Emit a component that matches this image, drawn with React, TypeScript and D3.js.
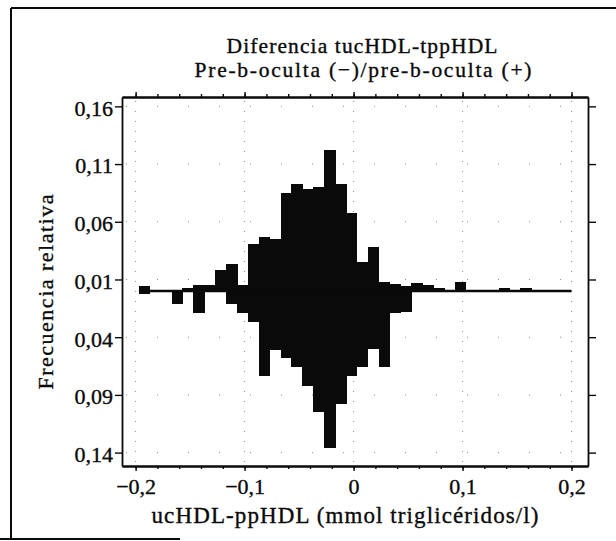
import { useEffect, useRef } from "react";
import * as d3 from "d3";

// bins of 0.01 mmol/l, lower edge of each bin
const binStarts = [
  -0.197, -0.187, -0.177, -0.167, -0.157, -0.147, -0.137, -0.127, -0.117, -0.107,
  -0.097, -0.087, -0.077, -0.067, -0.057, -0.047, -0.037, -0.027, -0.017, -0.007,
  0.003, 0.013, 0.023, 0.033, 0.043, 0.053, 0.063, 0.073, 0.083, 0.093,
  0.103, 0.113, 0.123, 0.133, 0.143, 0.153, 0.163, 0.173, 0.183, 0.193,
];

// pre-b-oculta (+), drawn upwards
const positiveFreq = [
  0.004, 0, 0, 0, 0.003, 0.005, 0.005, 0.018, 0.023, 0.005,
  0.041, 0.047, 0.045, 0.085, 0.093, 0.088, 0.09, 0.122, 0.093, 0.068,
  0.025, 0.038, 0.008, 0.006, 0.004, 0.007, 0.005, 0.003, 0, 0.008,
  0, 0, 0, 0.003, 0, 0.003, 0, 0, 0, 0,
];

// pre-b-oculta (-), drawn downwards
const negativeFreq = [
  0.003, 0, 0, 0.011, 0, 0.019, 0, 0, 0.011, 0.019,
  0.027, 0.074, 0.051, 0.058, 0.066, 0.082, 0.105, 0.136, 0.098, 0.074,
  0.066, 0.05, 0.066, 0.019, 0.018, 0, 0, 0, 0, 0,
  0, 0, 0, 0, 0, 0, 0, 0, 0, 0,
];

const binWidth = 0.01;

const xTickValues = [-0.2, -0.1, 0, 0.1, 0.2];
const xTickLabels = ["\u22120,2", "\u22120,1", "0", "0,1", "0,2"];
const yTickValues = [0.16, 0.11, 0.06, 0.01, -0.04, -0.09, -0.14];
const yTickLabels = ["0,16", "0,11", "0,06", "0,01", "0,04", "0,09", "0,14"];

const titleLines = ["Diferencia tucHDL-tppHDL", "Pre-b-oculta (\u2212)/pre-b-oculta (+)"];
const xTitle = "ucHDL-ppHDL (mmol triglicéridos/l)";
const yTitle = "Frecuencia relativa";

export default function App() {
  const ref = useRef<SVGSVGElement>(null);

  useEffect(() => {
    const svg = d3.select(ref.current);
    svg.selectAll("*").remove();

    const font = "'Liberation Serif', 'Times New Roman', serif";
    const ink = "#0a0a0a";

    const plot = { left: 122, right: 588, top: 97, bottom: 466 };

    const x = d3.scaleLinear().domain([-0.2125, 0.2151]).range([plot.left, plot.right]);
    const y = d3.scaleLinear().domain([-0.1516, 0.1681]).range([plot.bottom, plot.top]);

    svg.append("rect").attr("width", 616).attr("height", 541).attr("fill", "#fff");

    // outer frame (only partly visible in the scan)
    const frame = svg.append("g").attr("stroke", ink).attr("stroke-width", 2).attr("fill", "none");
    frame.append("line").attr("x1", 11).attr("x2", 616).attr("y1", 8).attr("y2", 8);
    frame.append("line").attr("x1", 11).attr("x2", 11).attr("y1", 8).attr("y2", 539);
    frame.append("line").attr("x1", 0).attr("x2", 180).attr("y1", 539).attr("y2", 539);

    // faint dotted grid
    const grid = svg.append("g")
      .attr("stroke", "#8a8a8a")
      .attr("stroke-width", 1)
      .attr("stroke-dasharray", "1,9");
    grid.selectAll("line.v")
      .data(xTickValues)
      .enter()
      .append("line")
      .attr("x1", d => x(d)).attr("x2", d => x(d))
      .attr("y1", plot.top + 4).attr("y2", plot.bottom - 2);
    grid.selectAll("line.h")
      .data(yTickValues)
      .enter()
      .append("line")
      .attr("x1", plot.left + 4).attr("x2", plot.right - 4)
      .attr("y1", d => y(d)).attr("y2", d => y(d))
      .attr("stroke-dasharray", "1,30");

    // mirrored histogram
    const bins = binStarts.map((b, i) => ({ start: b, pos: positiveFreq[i], neg: negativeFreq[i] }));
    svg.append("g")
      .selectAll("rect")
      .data(bins.filter(d => d.pos > 0 || d.neg > 0))
      .enter()
      .append("rect")
      .attr("x", d => x(d.start))
      .attr("width", d => x(d.start + binWidth) - x(d.start) + 0.6)
      .attr("y", d => y(d.pos))
      .attr("height", d => y(-d.neg) - y(d.pos))
      .attr("fill", ink)
      .attr("shape-rendering", "crispEdges");

    // zero line
    svg.append("line")
      .attr("x1", x(binStarts[0])).attr("x2", x(0.2))
      .attr("y1", y(0)).attr("y2", y(0))
      .attr("stroke", ink)
      .attr("stroke-width", 2.4);

    const minorX = d3.range(-0.2, 0.2001, 0.02);

    const styleAxis = (g: any) => {
      g.select(".domain").attr("stroke", ink).attr("stroke-width", 1.8);
      g.selectAll(".tick line").attr("stroke", ink).attr("stroke-width", 1.4);
      g.selectAll("text")
        .attr("fill", ink)
        .attr("stroke", ink)
        .attr("stroke-width", 0.35)
        .style("font-family", font)
        .style("font-size", "22px");
    };

    // left axis
    svg.append("g")
      .attr("transform", `translate(${plot.left},0)`)
      .call(d3.axisLeft(y)
        .tickValues(yTickValues)
        .tickFormat((_d, i) => yTickLabels[i])
        .tickSize(7)
        .tickPadding(2)
        .tickSizeOuter(0))
      .call(styleAxis)
      .call(g => g.selectAll("text").attr("dy", "0.4em"));

    // right axis
    svg.append("g")
      .attr("transform", `translate(${plot.right},0)`)
      .call(d3.axisRight(y).tickValues(yTickValues).tickFormat(() => "").tickSize(8).tickSizeOuter(0))
      .call(styleAxis);

    // bottom axis
    svg.append("g")
      .attr("transform", `translate(0,${plot.bottom})`)
      .call(d3.axisBottom(x)
        .tickValues(xTickValues)
        .tickFormat((_d, i) => xTickLabels[i])
        .tickSize(5)
        .tickPadding(7)
        .tickSizeOuter(0))
      .call(styleAxis);
    svg.append("g")
      .attr("transform", `translate(0,${plot.bottom})`)
      .call(d3.axisBottom(x).tickValues(minorX).tickFormat(() => "").tickSize(3).tickSizeOuter(0))
      .call(styleAxis);

    // top axis
    svg.append("g")
      .attr("transform", `translate(0,${plot.top})`)
      .call(d3.axisTop(x).tickValues(xTickValues).tickFormat(() => "").tickSize(5).tickSizeOuter(0))
      .call(styleAxis);
    svg.append("g")
      .attr("transform", `translate(0,${plot.top})`)
      .call(d3.axisTop(x).tickValues(minorX).tickFormat(() => "").tickSize(3).tickSizeOuter(0))
      .call(styleAxis);

    // titles
    const title = svg.append("g")
      .attr("fill", ink)
      .attr("stroke", ink)
      .attr("stroke-width", 0.35)
      .style("font-family", font)
      .style("font-size", "21.5px")
      .attr("text-anchor", "middle");
    title.append("text").attr("x", 362).attr("y", 53)
      .attr("textLength", 271).attr("lengthAdjust", "spacing").text(titleLines[0]);
    title.append("text").attr("x", 363).attr("y", 77)
      .attr("textLength", 337).attr("lengthAdjust", "spacing").text(titleLines[1]);

    svg.append("text")
      .attr("x", 345).attr("y", 523)
      .attr("text-anchor", "middle")
      .attr("fill", ink)
      .attr("stroke", ink)
      .attr("stroke-width", 0.35)
      .style("font-family", font)
      .style("font-size", "23px")
      .attr("textLength", 387).attr("lengthAdjust", "spacing")
      .text(xTitle);

    svg.append("text")
      .attr("transform", "translate(53,292) rotate(-90)")
      .attr("text-anchor", "middle")
      .attr("fill", ink)
      .attr("stroke", ink)
      .attr("stroke-width", 0.35)
      .style("font-family", font)
      .style("font-size", "22px")
      .attr("textLength", 195).attr("lengthAdjust", "spacing")
      .text(yTitle);
  }, []);

  return (
    <svg
      ref={ref}
      width={616}
      height={541}
      style={{ position: "absolute", left: 0, top: 0, display: "block" }}
    />
  );
}
